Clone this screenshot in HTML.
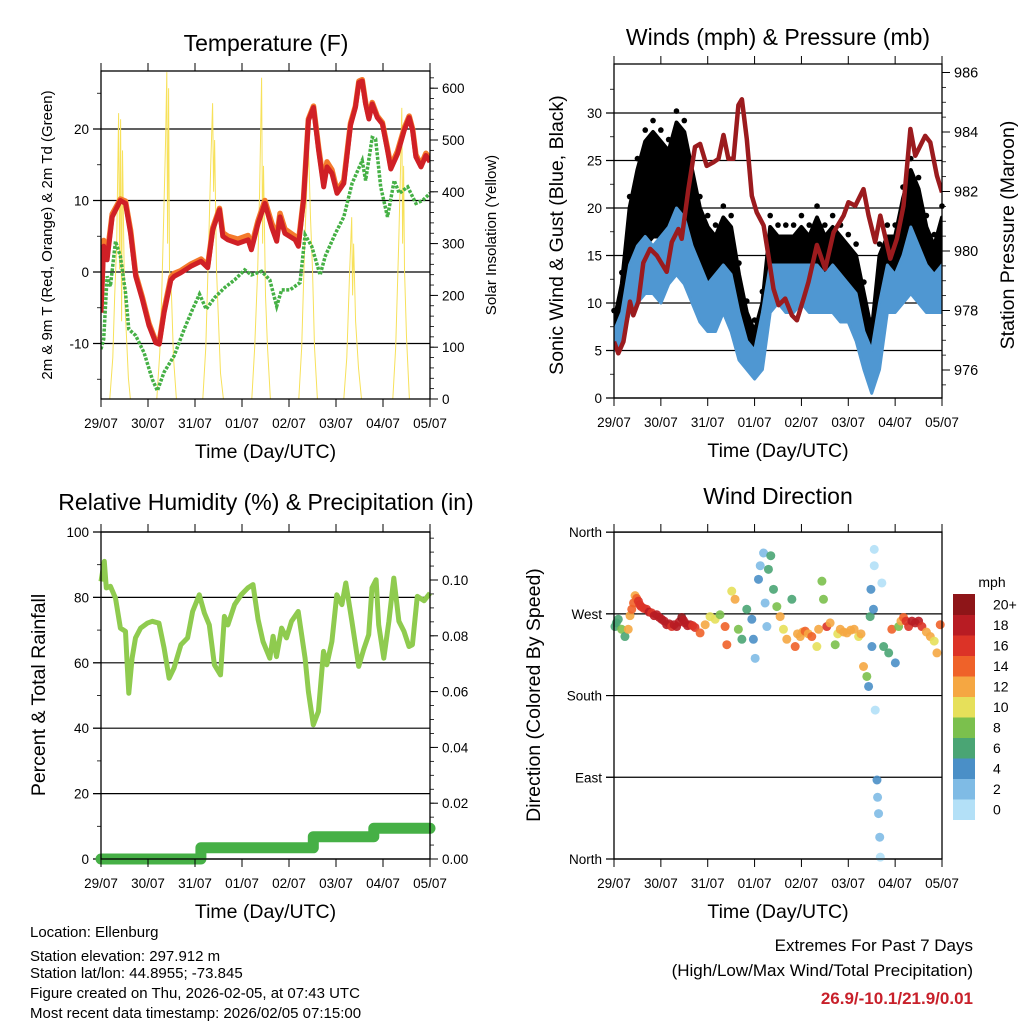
<!DOCTYPE html>
<html><head><meta charset="utf-8"><style>
html,body{margin:0;padding:0;background:#fff;}
svg{display:block;font-family:"Liberation Sans",Arial,sans-serif;}
</style></head><body>
<svg id="s" width="1024" height="1024" viewBox="0 0 1024 1024" xmlns="http://www.w3.org/2000/svg">
<rect width="1024" height="1024" fill="#fff"/>
<g id="p1"></g>
<g id="p2"></g>
<g id="p3"></g>
<g id="p4"></g>
<g font-size="15" fill="#000">
<text x="30" y="937">Location: Ellenburg</text>
<text x="30" y="961">Station elevation: 297.912 m</text>
<text x="30" y="978">Station lat/lon: 44.8955; -73.845</text>
<text x="30" y="998">Figure created on Thu, 2026-02-05, at 07:43 UTC</text>
<text x="30" y="1018">Most recent data timestamp: 2026/02/05 07:15:00</text>
</g>
<g text-anchor="end">
<text x="973" y="951" font-size="17">Extremes For Past 7 Days</text>
<text x="973" y="976" font-size="17">(High/Low/Max Wind/Total Precipitation)</text>
<text x="973" y="1004" font-size="17" font-weight="bold" fill="#c8202a">26.9/-10.1/21.9/0.01</text>
</g>
</svg>
<script>
// ---------- data ----------
const dayLabels = ["29/07","30/07","31/07","01/07","02/07","03/07","04/07","05/07"];
const tHours = [0,1.4,3.1,5.7,9.9,12.5,15.1,17.7,21.1,24.5,28,29.7,32.2,35.7,37.4,40.8,45.9,51.1,54.5,57.1,60.5,62.2,64.8,69.9,75.1,76.8,80.2,83.7,87.1,89.7,91.4,93.9,99.1,100.8,103.4,105.9,108.5,111.1,113.7,115.4,117.9,120.5,124,127.4,129.9,131.7,133.4,135.1,136.8,138.5,141.1,143.7,146.3,148,151.4,154.8,157.4,159.1,160.8,163.4,165.9,168];
const temp9m = [-5.7,3.6,1.7,7.7,10,9.6,5.4,-0.6,-3.8,-7.5,-9.9,-10.1,-5.7,-1.1,-0.6,-0.1,0.8,1.5,0.6,5.9,8.7,5,4.5,4,4.5,3.1,6.8,9.6,6.3,4.3,7.7,5.4,4.5,3.6,10,21.2,23,17,11.9,14.7,13.8,11,12.4,20.5,23,26.5,26.7,23.5,21.4,23.5,21.6,20.7,17,14.4,16.5,19.8,21.6,19.8,16.1,14.7,16.3,15.4];
const temp2m = [-4.8,4.4,2.3,8.1,10.2,9.9,5.8,-0.3,-3.5,-7.2,-9.7,-9.9,-5.3,-0.7,-0.2,0.2,1.1,1.8,0.9,6.2,8.9,5.5,5,4.6,5.1,3.6,7.2,10,6.9,4.9,8.2,6,5,4.1,10.2,21.4,23.2,17.4,12.4,15.4,14.3,11.4,12.8,20.8,23.2,26.7,26.9,23.7,21.6,23.7,21.8,20.9,17.3,14.8,16.9,20.1,21.8,20,16.4,15,16.6,15.8];
const tdHours = [0,1.4,3.1,4.8,7.4,9.9,12.5,14.2,17.7,22,26.2,28.8,32.2,37.4,42.5,46.8,50.3,53.7,58,63.1,68.2,73.4,76.8,82,86.2,89.7,92.2,96.5,101.6,104.2,107.6,111.9,114.5,119.7,124,128.2,133.4,135.1,138.5,140.2,142.8,146.3,149.7,152.3,156.6,160.8,164.2,168];
const dewpoint = [-10.8,-9.4,-0.6,-2,4.3,2.2,-2.9,-8,-8.9,-11.3,-15,-16.6,-14,-11.7,-8,-5.2,-3.1,-5.2,-3.6,-2.2,-1.1,0.3,-0.4,0.1,-1.1,-4.8,-2.5,-2.5,-1.5,5.2,3.6,-0.4,2.2,5.4,7.7,12.4,15.6,12.8,18.8,18.6,11.9,7.7,12.8,11,11.9,9.6,10,11];
const solarHours = [0,4.5,6,7,8,9,9.5,10,10.5,11,12,13,14,15,28.5,30,31,32,33,33.6,34,34.5,35,36,37,38.5,52,53.5,55,56,57,57.5,58,59,60,61,62.5,77,78.5,80,81,82,82.5,83,84,85,86.5,101,102.5,104,105,106,107,108,109,110.5,124,125.5,127,128,128.5,129,130,131.5,133,149,150.5,152,153,153.6,154,154.5,155,156,157.5,168];
const solarVals = [0,0,80,200,300,552,250,540,150,480,200,120,40,0,0,90,200,350,500,631,300,600,250,200,80,0,0,100,300,450,571,400,500,250,150,50,0,0,100,250,400,620,300,450,200,100,0,0,100,300,400,480,350,250,100,0,0,80,250,351,200,300,150,60,0,0,100,300,450,562,300,450,250,120,0,0];
const presHours = [0,2.2,4.8,8.2,9.9,12.5,15,18.5,21.9,27,29.6,33,34.7,38.1,41.5,44.1,47.5,50.9,53.5,56.1,58.6,61.2,63.7,65.5,68,70.6,73.1,76.6,79.1,81.7,84.3,87.7,91.1,93.7,97.1,99.6,103.9,108.2,112.5,117.6,120.1,123.6,127.8,130.4,133.8,136.4,141.5,144.9,148.3,151.8,154.3,159.4,162,165.4,168];
const pressure = [976.95,976.56,976.95,978.3,977.84,978.3,979.6,980.07,979.85,979.3,980.3,980.74,980.41,982.08,983.5,983.6,982.86,982.98,983.1,983.9,983.1,983.1,984.9,985.1,983.76,981.86,981.3,980.86,979.85,978.73,978.18,978.4,977.84,977.67,978.4,978.96,980.2,979.4,980.63,981.19,981.64,981.52,982.08,981.19,980.3,981.19,979.74,980.41,981.52,984.1,983.2,983.87,983.65,982.53,981.97];
const windHours = [0,4,8,12,16,20,24,28,32,36,40,44,48,52,56,60,64,68,72,76,80,84,88,92,96,100,104,108,112,116,120,124,128,132,136,140,144,148,152,156,160,164,168];
const gustHi = [8,12,20,24,27,28,27,26,29,28,24,20,18,17,19,18,13,9,7,10,18,17,17,17,18,17,19,17,18,17,16,15,11,7,15,17,17,21,24,22,18,16,19];
const gustLo = [6,7,12,15,16,17,17,16,17,17,14,12,10,10,12,11,8,5,3,4,11,11,12,12,12,12,12,11,12,11,11,8,5,2,4,12,11,14,15,14,12,12,13];
const sonicHi = [7,9,14,16,17,16,17,18,20,19,16,14,12,13,14,13,9,6,5,9,14,14,14,14,14,14,14,13,14,13,12,11,7,5,10,14,13,15,18,16,14,13,14];
const sonicLo = [5,6,9,10,11,11,10,12,13,12,10,8,7,7,9,7,4,3,2,3,9,10,9,9,10,9,9,9,9,8,8,6,3,0.5,3,9,9,10,11,10,9,9,9];
const rhHours = [0,1.7,2.7,4.8,7.4,9.9,12.5,13.4,14.2,15.9,17.6,20.2,23.6,26.2,29.6,32.2,34.8,37.3,40.8,44.2,46.8,50.2,52.8,55.3,57.9,61,63,64.8,68.2,71.6,75,77.6,80.2,82.7,86.2,87.9,89.6,92.2,94.7,97.3,100.7,104.2,105.9,108.4,111,113.6,115.3,117.9,120.4,123,125,128.1,131.6,134.1,136.7,138.4,140.5,141.8,144.4,147,149.5,152.1,154.7,157.3,159,161.5,165,168];
const rhVals = [84.9,91,82.9,83.4,79.8,70.6,69.6,59.4,50.7,61.4,67.6,70.6,72.1,72.7,72.1,64.5,55.3,58.4,65.5,67.6,75.7,80.8,75.2,71.6,59.4,56.3,74.2,71.6,77.8,80.8,82.9,83.9,73.2,66.5,61.4,68.1,61.9,70.6,67.6,72.7,75.7,61.4,51.2,41,45.1,63.5,59.4,66.5,80.8,77.8,84.4,72.7,58.9,64,68.6,82.9,85.4,71.6,61.4,72.7,85.9,72.7,69.6,65,65.5,80.3,79,81.3];
const precipHours = [0,51,51,108.4,108.4,139.3,139.3,168];
const precipVals = [0,0,0.004,0.004,0.008,0.008,0.011,0.011];
const dirHours = [0.5,1.2,2.2,3.9,5.6,7.3,8.2,9.1,10,10.8,11.6,12.5,13.2,13.9,15.3,16.7,18,19.3,20.6,21.9,23.2,24.4,25.7,27,28.3,29.6,30.8,32.1,33.4,34.7,35.5,36.4,37.7,39,40.3,41.5,44.1,46.7,49.2,51.8,54.3,56.9,57.8,60.3,62,63.7,65.5,68,70.6,71.4,72.3,74,74.9,76.6,77.4,78.3,79.1,80.3,81.7,83.4,85.1,86.8,88.5,91.1,92.8,94,95.4,96.6,97.9,99.5,101.3,103.9,104.8,106.5,107.3,109,110.7,113.3,114.6,115.9,117.6,119.3,121.2,123,125.3,126.5,127.8,129.5,130.4,131.2,131.6,132.1,132.9,133.3,133.3,133.8,134.7,135,135.5,136.1,136.4,137.2,138.1,140.7,142.3,144.1,145.8,147,148.3,149.6,150.9,152.6,154.3,156,157.7,160,162,164,165.4,167.1];
const dirVals = [256,260,264,253,245,253,268,275,282,290,287,284,280,278,276,275,272,271,268,269,266,264,262,258,259,256,258,256,261,266,263,260,257,258,257,255,249,258,267,264,269,256,236,295,286,253,242,275,264,242,221,308,323,337,282,256,319,334,297,278,267,253,242,286,234,248,245,250,251,248,245,234,253,306,286,256,260,236,248,253,250,249,252,253,245,248,212,201,190,267,297,234,275,341,323,164,87,68,50,24,2,304,234,227,253,216,256,262,266,262,256,262,260,262,256,250,245,240,227,258];
const dirSpeed = [6,7,7,9,7,12,13,14,14,13,15,16,16,17,17,16,18,17,18,19,19,19,18,18,19,17,18,19,19,20,19,18,18,18,17,17,14,12,10,10,9,14,15,10,12,8,7,7,5,4,3,4,3,2,2,2,6,6,7,8,13,11,12,6,14,13,13,12,14,12,15,10,12,8,9,16,12,8,10,13,12,13,12,12,11,13,12,8,5,6,4,4,4,1,1,0,4,3,2,2,1,1,7,6,15,5,9,13,15,17,17,18,19,18,16,13,12,11,12,15];
const speedBins = ["0","2","4","6","8","10","12","14","16","18","20+"];
const speedColors = ["#b3e0f7","#7fbbe5","#4a8fc7","#4aa574","#7bc04d","#e6e05a","#f5a742","#ef6229","#dc3327","#b81c23","#8e1518"];

// ---------- helpers ----------
const NS="http://www.w3.org/2000/svg";
function mk(parent,tag,attrs,text){const e=document.createElementNS(NS,tag);for(const k in attrs)e.setAttribute(k,attrs[k]);if(text!==undefined)e.textContent=text;parent.appendChild(e);return e;}
function pts(xs,ys,fx,fy){return xs.map((h,i)=>fx(h).toFixed(1)+","+fy(ys[i]).toFixed(1)).join(" ");}

function frame(g,x0,x1,y0,y1,xs){
  for(let d=0;d<dayLabels.length;d++){
    const x=xs(d*24);
    let t=mk(g,"line",{x1:x,x2:x,y1:y0-8,y2:y0,stroke:"#000","stroke-width":1});
    
    
    t=mk(g,"line",{x1:x,x2:x,y1:y1,y2:y1+8,stroke:"#000","stroke-width":1});
    
    
    const l=mk(g,"text",{x:x,y:y1+29,"font-size":13.5,"text-anchor":"middle"},dayLabels[d]);
    
    
  }
  const xt=mk(g,"text",{x:(x0+x1)/2,y:y1+59,"font-size":19.5,"text-anchor":"middle"},"Time (Day/UTC)");
  
  
}
function border(g,x0,x1,y0,y1){
  const b=mk(g,"rect",{x:x0,y:y0,width:x1-x0,height:y1-y0,fill:"none",stroke:"#000","stroke-width":1.3});
  
  
}
function yTicks(g,vals,labels,fy,x,side,minor,grid,x0,x1,fs){
  minor.forEach(v=>{const y=fy(v);const m=mk(g,"line",{x1:x,x2:x+(side<0?-4:4),y1:y,y2:y,stroke:"#000","stroke-width":0.8});
    
    });
  vals.forEach((v,i)=>{const y=fy(v);
    if(grid){const gl=mk(g,"line",{x1:x0-8,x2:x1,y1:y,y2:y,stroke:"#000","stroke-width":1.2});
      
      }
    const t=mk(g,"line",{x1:x,x2:x+(side<0?-8:8),y1:y,y2:y,stroke:"#000","stroke-width":1});
    
    
    const l=mk(g,"text",{x:x+(side<0?-12:12),y:y+5,"font-size":fs||13.5,"text-anchor":side<0?"end":"start"},labels[i]);
    
    });
}
function title(g,x,y,txt,fs){const t=mk(g,"text",{x:x,y:y,"font-size":fs,"text-anchor":"middle"},txt);
  
  }
function vtitle(g,x,y,txt,fs,name){const t=mk(g,"text",{x:x,y:y,"font-size":fs,"text-anchor":"middle",transform:`rotate(-90 ${x} ${y})`},txt);
  
  }
function range(a,b,s){const r=[];for(let v=a;v<=b+1e-9;v+=s)r.push(+v.toFixed(4));return r;}

// ---------- Panel 1: Temperature ----------
(function(){
  const g=document.getElementById('p1');const X0=101,X1=430,Y0=71,Y1=399;
  const xs=h=>X0+(X1-X0)*h/168, yT=v=>272-7.15*v, yS=v=>399-0.518*v;
  title(g,266,51,"Temperature (F)",23);
  yTicks(g,[-10,0,10,20],["-10","0","10","20"],yT,X0,-1,[-15,-5,5,15,25],true,X0,X1);
  yTicks(g,[0,100,200,300,400,500,600],["0","100","200","300","400","500","600"],yS,X1,1,range(20,620,20),false);
  const cp=mk(g,"clipPath",{id:"c1"});mk(cp,"rect",{x:X0,y:Y0,width:X1-X0,height:Y1-Y0});
  const sol=mk(g,"polyline",{points:pts(solarHours,solarVals,xs,yS),fill:"none",stroke:"#f7e15a","stroke-width":1,"clip-path":"url(#c1)"});
  
  
  const o=mk(g,"polyline",{points:pts(tHours,temp2m,xs,yT),fill:"none",stroke:"#f47a2b","stroke-width":5.5,"stroke-linejoin":"round","clip-path":"url(#c1)"});
  
  
  const r=mk(g,"polyline",{points:pts(tHours,temp9m,xs,yT),fill:"none",stroke:"#d02026","stroke-width":5,"stroke-linejoin":"round","clip-path":"url(#c1)"});
  
  
  const gr=mk(g,"polyline",{points:pts(tdHours,dewpoint,xs,yT),fill:"none",stroke:"#45b045","stroke-width":3.5,"stroke-dasharray":"3 1.5","clip-path":"url(#c1)"});
  
  
  border(g,X0,X1,Y0,Y1);frame(g,X0,X1,Y0,Y1,xs);
  vtitle(g,52,235,"2m & 9m T (Red, Orange) & 2m Td (Green)",15,"y-axis-title-left");
  vtitle(g,496,235,"Solar Insolation (Yellow)",15,"y-axis-title-right");
})();

// ---------- Panel 2: Winds ----------
(function(){
  const g=document.getElementById('p2');const X0=614,X1=942,Y0=64,Y1=398;
  const xs=h=>X0+(X1-X0)*h/168, yW=v=>398-9.5*v, yP=v=>370-29.75*(v-976);
  title(g,778,45,"Winds (mph) & Pressure (mb)",23);
  yTicks(g,[0,5,10,15,20,25,30],["0","5","10","15","20","25","30"],yW,X0,-1,range(2.5,32.5,5),true,X0,X1);
  yTicks(g,[976,978,980,982,984,986],["976","978","980","982","984","986"],yP,X1,1,range(975.5,986,0.5),false,0,0,14.5);
  const cp=mk(g,"clipPath",{id:"c2"});mk(cp,"rect",{x:X0,y:Y0,width:X1-X0,height:Y1-Y0});
  const band=(hi,lo)=>windHours.map((h,i)=>xs(h).toFixed(1)+","+yW(hi[i]).toFixed(1)).concat(windHours.slice().reverse().map((h,j)=>{const i=windHours.length-1-j;return xs(h).toFixed(1)+","+yW(lo[i]).toFixed(1);})).join(" ");
  const gb=mk(g,"polygon",{points:band(gustHi,gustLo),fill:"#000",stroke:"#000","stroke-width":4,"stroke-linejoin":"round","clip-path":"url(#c2)"});
  
  
  gustHi.forEach((v,i)=>{const c=mk(g,"circle",{cx:xs(windHours[i]),cy:yW(v+1.2),r:2.8,fill:"#000"});
    
    });
  const sb=mk(g,"polygon",{points:band(sonicHi,sonicLo),fill:"#4f97d2",stroke:"#4f97d2","stroke-width":3,"stroke-linejoin":"round","clip-path":"url(#c2)"});
  
  
  const p=mk(g,"polyline",{points:pts(presHours,pressure,xs,yP),fill:"none",stroke:"#9b1b1e","stroke-width":4.5,"stroke-linejoin":"round","clip-path":"url(#c2)"});
  
  
  border(g,X0,X1,Y0,Y1);frame(g,X0,X1,Y0,Y1,xs);
  vtitle(g,563,235,"Sonic Wind & Gust (Blue, Black)",19.5,"y-axis-title-left");
  vtitle(g,1014,235,"Station Pressure (Maroon)",19.5,"y-axis-title-right");
})();

// ---------- Panel 3: RH ----------
(function(){
  const g=document.getElementById('p3');const X0=101,X1=430,Y0=532,Y1=859;
  const xs=h=>X0+(X1-X0)*h/168, yR=v=>859-3.27*v, yQ=v=>859-2790*v;
  title(g,266,510,"Relative Humidity (%) & Precipitation (in)",23);
  yTicks(g,[0,20,40,60,80,100],["0","20","40","60","80","100"],yR,X0,-1,range(10,90,20),true,X0,X1);
  yTicks(g,[0,0.02,0.04,0.06,0.08,0.10],["0.00","0.02","0.04","0.06","0.08","0.10"],yQ,X1,1,range(0.005,0.115,0.005),false);
  const cp=mk(g,"clipPath",{id:"c3"});mk(cp,"rect",{x:X0-8,y:Y0,width:X1-X0+16,height:Y1-Y0+8});
  const rh=mk(g,"polyline",{points:pts(rhHours,rhVals,xs,yR),fill:"none",stroke:"#8fcb4f","stroke-width":5,"stroke-linejoin":"round"});
  
  
  const pr=mk(g,"polyline",{points:pts(precipHours,precipVals,xs,yQ),fill:"none",stroke:"#46b046","stroke-width":11,"stroke-linejoin":"round","stroke-linecap":"round","clip-path":"url(#c3)"});
  
  
  border(g,X0,X1,Y0,Y1);frame(g,X0,X1,Y0,Y1,xs);
  vtitle(g,45,695,"Percent & Total Rainfall",19.5,"y-axis-title-left");
})();

// ---------- Panel 4: Wind direction ----------
(function(){
  const g=document.getElementById('p4');const X0=614,X1=942,Y0=532,Y1=859;
  const xs=h=>X0+(X1-X0)*h/168, yD=v=>859-0.908*v;
  title(g,778,504,"Wind Direction",23);
  yTicks(g,[0,90,180,270,360],["North","East","South","West","North"],yD,X0,-1,[],true,X0,X1,13.5);
  dirHours.forEach((h,i)=>{const b=Math.min(10,Math.floor(dirSpeed[i]/2));
    const c=mk(g,"circle",{cx:xs(h),cy:yD(dirVals[i]),r:4.5,fill:speedColors[b],"fill-opacity":0.9});
    
    });
  border(g,X0,X1,Y0,Y1);frame(g,X0,X1,Y0,Y1,xs);
  vtitle(g,540,695,"Direction (Colored By Speed)",19.5,"y-axis-title-left");
  const lg=mk(g,"g",{});
  
  
  const mt=mk(lg,"text",{x:992,y:587,"font-size":14,"text-anchor":"middle"},"mph");
  
  
  const top=594,bh=20.5;
  speedBins.forEach((lab,i)=>{const k=speedBins.length-1-i;const y=top+k*bh;
    const r=mk(lg,"rect",{x:953,y:y,width:22,height:bh+0.5,fill:speedColors[i]});
    
    
    const t=mk(lg,"text",{x:993,y:y+bh/2+5,"font-size":14},lab);
    
    });
})();
</script>
</body></html>
